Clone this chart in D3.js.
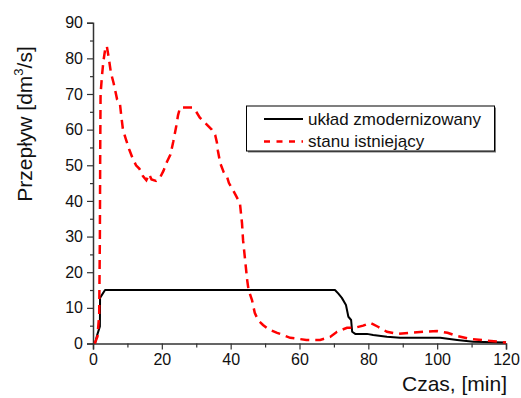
<!DOCTYPE html>
<html>
<head>
<meta charset="utf-8">
<script src="https://cdn.jsdelivr.net/npm/d3@7"></script>
<style>
  body { margin: 0; background: #fff; }
  svg { display: block; font-family: Arial, "Liberation Sans", sans-serif; }
</style>
</head>
<body>
<div id="chart"></div>
<script>
// czas [min] i przepływ [dm3/s]
const modTime = [0.6, 1.1, 2, 2.05, 3.5, 70.3, 71.3, 72.3, 73.5, 74.2, 75, 75.3, 76.2, 79.6, 81.4, 85.4, 89.2, 100.9, 105.8, 110.5, 120];
const modFlow = [0, 2, 4.8, 12.8, 15, 15, 14, 12.8, 10.8, 7.5, 6.6, 3.3, 2.7, 2.7, 2.4, 1.9, 1.6, 1.6, 1.0, 0.5, 0.3];

const oldTime = [0.5, 1.3, 1.8, 2.0, 2.1, 2.2, 2.6, 3.0, 3.6, 4.0, 4.6, 5.2, 6.0, 7.0, 7.8, 8.2, 8.7, 9.5, 10.5, 11.5,
  12.5, 13.5, 14.5, 15.5, 16.3, 17, 18.3, 19.5, 20.5, 21.5, 22.5, 23.3, 24.2, 24.7, 25.3, 28.8, 30, 31, 33, 34.5,
  35.5, 36, 36.3, 37, 38, 39, 39.5, 40.7, 41.8, 42.7, 43.3, 43.6, 44.2, 44.8, 45.2, 46.2, 47, 48, 49.4, 51,
  53.5, 57.3, 62, 66, 69, 70.9, 73.8, 76, 78.5, 80.5, 82.8, 85.4, 88.4, 92.2, 96, 100, 103, 105.8, 109.6, 114.5, 120];
const oldFlow = [0, 2, 8, 30, 55, 70, 75, 79, 83, 83.5, 80, 76, 73, 68.5, 67.5, 64, 60, 57.5, 54.5, 52,
  50, 49, 47, 45.8, 47.5, 46, 45.6, 46.6, 48.5, 51, 53, 56.5, 61, 64, 66.2, 66.2, 65, 63.4, 61.5, 60,
  58.5, 56.4, 54, 50.5, 48, 46.6, 45, 43, 41, 39.3, 33.7, 29, 23.4, 17.8, 15, 12.2, 8.6, 6.5, 5.2, 4,
  3, 1.6, 1, 1, 1.9, 3.3, 4.4, 4.4, 5, 5.8, 4.7, 3.3, 2.7, 3, 3.3, 3.5, 3, 2.1, 1.3, 0.8, 0.3];

const xTicks = [0, 20, 40, 60, 80, 100, 120];
const xMinor = [10, 30, 50, 70, 90, 110];
const yTicks = [0, 10, 20, 30, 40, 50, 60, 70, 80, 90];
const yMinor = [5, 15, 25, 35, 45, 55, 65, 75, 85];
const legendLabels = ['układ zmodernizowany', 'stanu istniejący'];

const width = 521, height = 398;
const svg = d3.select('#chart').append('svg')
  .attr('width', width)
  .attr('height', height);

const x = d3.scaleLinear().domain([0, 120]).range([93, 506]);
const y = d3.scaleLinear().domain([0, 90]).range([343.5, 22.7]);

// osie
const axisColor = '#333';
const yAxis = svg.append('g')
  .attr('transform', `translate(${x(0)},0)`)
  .call(d3.axisLeft(y).tickValues(yTicks).tickSize(6).tickPadding(4).tickFormat(d3.format('d')));
const yMinorAxis = svg.append('g')
  .attr('transform', `translate(${x(0)},0)`)
  .call(d3.axisLeft(y).tickValues(yMinor).tickSize(3).tickFormat(''));
const xAxis = svg.append('g')
  .attr('transform', `translate(0,${y(0)})`)
  .call(d3.axisBottom(x).tickValues(xTicks).tickSize(6).tickPadding(4).tickFormat(d3.format('d')));
const xMinorAxis = svg.append('g')
  .attr('transform', `translate(0,${y(0)})`)
  .call(d3.axisBottom(x).tickValues(xMinor).tickSize(4).tickFormat(''));

[yAxis, yMinorAxis, xAxis, xMinorAxis].forEach(g => {
  g.select('.domain').attr('stroke', axisColor).attr('stroke-width', 1.5);
  g.selectAll('.tick line').attr('stroke', axisColor).attr('stroke-width', 1.2);
  g.selectAll('.tick text').attr('font-size', 16).attr('fill', '#111')
    .attr('font-family', 'Arial, "Liberation Sans", sans-serif');
});
yMinorAxis.select('.domain').remove();
xMinorAxis.select('.domain').remove();

// tytuły osi
svg.append('text')
  .attr('transform', 'translate(32,124) rotate(-90)')
  .attr('text-anchor', 'middle')
  .attr('font-size', 21)
  .attr('fill', '#111')
  .call(t => {
    t.append('tspan').text('Przepływ [dm');
    t.append('tspan').text('3').attr('font-size', 13).attr('dy', -9);
    t.append('tspan').text('/s]').attr('dy', 9);
  });

svg.append('text')
  .attr('x', 507)
  .attr('y', 391)
  .attr('text-anchor', 'end')
  .attr('font-size', 21)
  .attr('fill', '#111')
  .text('Czas, [min]');

// linie
const line = d3.line()
  .x(d => x(d[0]))
  .y(d => y(d[1]));

svg.append('path')
  .datum(d3.zip(modTime, modFlow))
  .attr('fill', 'none')
  .attr('stroke', '#000')
  .attr('stroke-width', 2)
  .attr('stroke-linejoin', 'round')
  .attr('d', line);

svg.append('path')
  .datum(d3.zip(oldTime, oldFlow))
  .attr('fill', 'none')
  .attr('stroke', '#ff0000')
  .attr('stroke-width', 2.5)
  .attr('stroke-dasharray', '9,6')
  .attr('d', line);

// legenda
const legend = svg.append('g').attr('transform', 'translate(246.5,106)');
legend.append('rect')
  .attr('x', 1.5).attr('y', 1.5)
  .attr('width', 248).attr('height', 45)
  .attr('fill', '#777');
legend.append('rect')
  .attr('width', 248).attr('height', 45)
  .attr('fill', '#fff')
  .attr('stroke', '#000')
  .attr('stroke-width', 1);

const styles = [
  { color: '#000', width: 2, dash: null },
  { color: '#ff0000', width: 2.5, dash: '6,6.5' }
];
legendLabels.forEach((label, i) => {
  const row = legend.append('g').attr('transform', `translate(0,${13 + i * 22.5})`);
  row.append('line')
    .attr('x1', 17.5).attr('x2', 56.5)
    .attr('stroke', styles[i].color)
    .attr('stroke-width', styles[i].width)
    .attr('stroke-dasharray', styles[i].dash);
  row.append('text')
    .attr('x', 61.5)
    .attr('dy', '0.35em')
    .attr('font-size', 17)
    .attr('fill', '#111')
    .text(label);
});
</script>
</body>
</html>
